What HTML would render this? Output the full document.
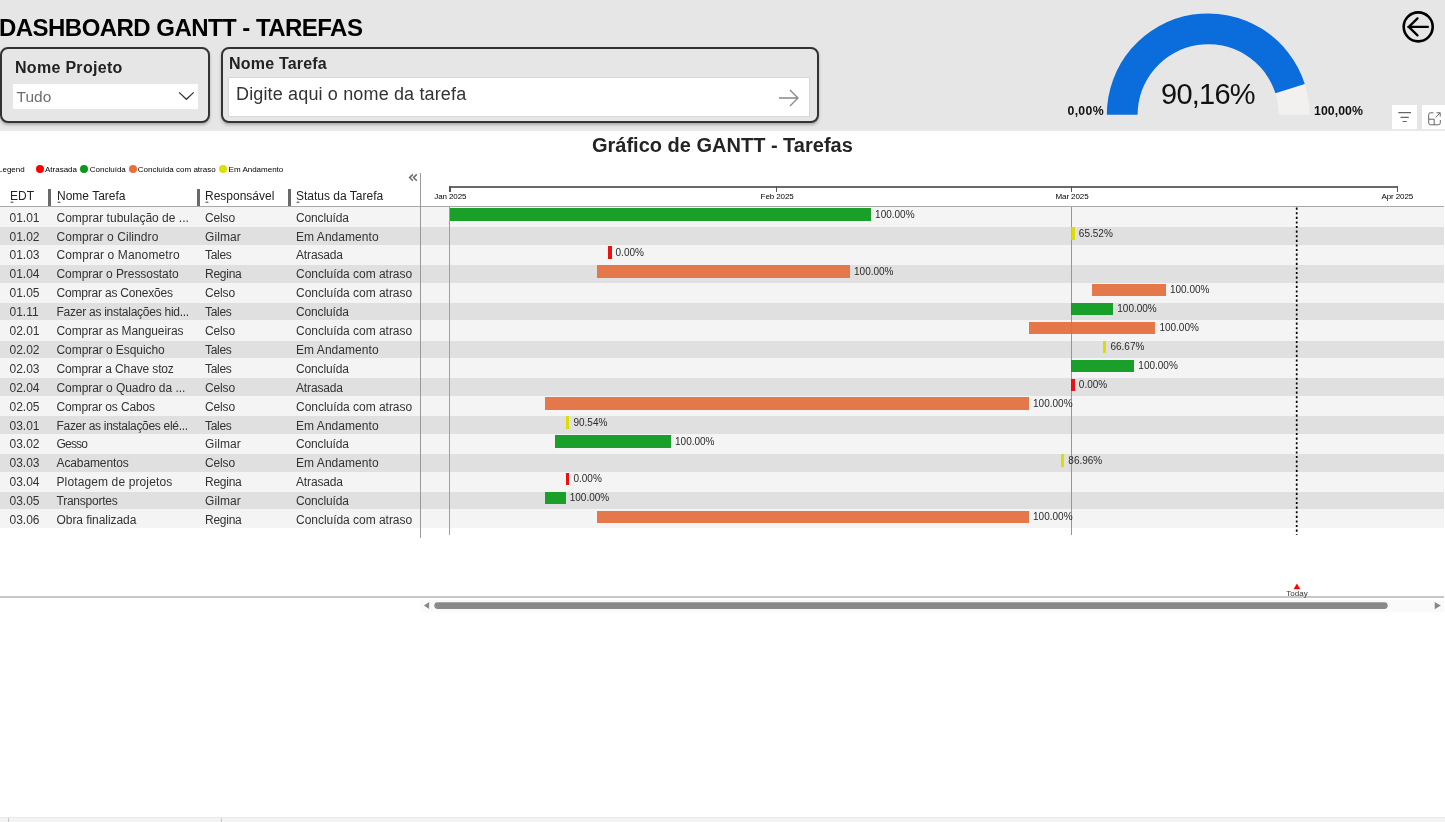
<!DOCTYPE html>
<html><head><meta charset="utf-8"><title>Dashboard Gantt - Tarefas</title>
<style>
*{margin:0;padding:0;box-sizing:border-box}
html,body{width:1445px;height:822px;overflow:hidden;background:#fff;-webkit-font-smoothing:antialiased;font-family:"Liberation Sans",Arial,sans-serif;color:#252423}
.a{position:absolute}
#top{left:0;top:0;width:1445px;height:131px;background:#e6e6e6;border-bottom:2px solid #e9e9e9}
#title{left:-1px;top:14px;font-size:24px;font-weight:bold;color:#000;white-space:nowrap;letter-spacing:-0.54px}
.box{border:2px solid #333;border-radius:8px;background:#e6e6e6;box-shadow:0 2px 3px rgba(0,0,0,.25)}
#b1{left:0;top:47px;width:210px;height:76px}
#b2{left:220.7px;top:47px;width:598.3px;height:76px}
.lbl{font-weight:bold;font-size:16px;color:#222;white-space:nowrap}
#dd{left:12.5px;top:83.5px;width:185px;height:25.3px;background:#fff}
#tudo{left:16.5px;top:87.5px;font-size:15.5px;color:#6e6e6e}
#inp{left:228px;top:77.3px;width:582px;height:40px;background:#fff;border:1px solid #d8d8d8}
#ph{left:236px;top:84px;font-size:18px;color:#333;white-space:nowrap;letter-spacing:0.15px}
#white{left:0;top:131px;width:1445px;height:691px;background:#fff;display:none}
#ctitle{left:592px;top:134px;font-size:20px;font-weight:bold;color:#252423;white-space:nowrap}
.lg{top:164.7px;font-size:8px;color:#000;white-space:nowrap}
.dot{width:8px;height:8px;border-radius:50%;top:164.8px!important}
.hd{top:189px;font-size:12px;color:#222;white-space:nowrap}
.sep{top:189px;width:3px;height:17px;background:#6a6a6a}
.tri{width:0;height:0;border-left:2.4px solid transparent;border-right:2.4px solid transparent;border-bottom:2.5px solid #777}
.row{left:0;width:421px;height:18.9px}
.rowc{left:421px;width:1024px;height:18.9px}
.c{font-size:12px;color:#333;white-space:nowrap;top:3px}
.ax{font-size:8px;color:#000;white-space:nowrap;top:191.6px;letter-spacing:-0.1px}
.bar{height:12px}
.pl{font-size:10px;color:#2a2a2a;white-space:nowrap}
</style></head><body><div id="wrap" style="position:absolute;left:0;top:0;width:1445px;height:822px;will-change:transform">
<div class="a" id="top"></div>
<div class="a" id="title">DASHBOARD GANTT - TAREFAS</div>
<div class="a box" id="b1"></div>
<div class="a lbl" style="left:15px;top:59px;letter-spacing:0.3px">Nome Projeto</div>
<div class="a" id="dd"></div>
<div class="a" id="tudo">Tudo</div>
<svg class="a" style="left:178px;top:90px" width="17" height="11"><path d="M1.1 2.4 L8.4 9.3 L15.7 2.4" fill="none" stroke="#333" stroke-width="1.25"/></svg>
<div class="a box" id="b2"></div>
<div class="a lbl" style="left:229px;top:55.4px;letter-spacing:0.2px">Nome Tarefa</div>
<div class="a" id="inp"></div>
<div class="a" id="ph">Digite aqui o nome da tarefa</div>
<svg class="a" style="left:777px;top:87px" width="24" height="22"><path d="M2 11 H21 M13 3 L21 11 L13 19" fill="none" stroke="#888" stroke-width="1.3"/></svg>

<!-- gauge -->
<svg class="a" style="left:1100px;top:5px" width="220" height="115">
  <path d="M6.80 109.80 A101.4 101.4 0 0 1 209.60 109.80 L178.80 109.80 A70.6 70.6 0 0 0 37.60 109.80 Z" fill="#f2f1f0"/>
  <path d="M6.80 109.80 A101.4 101.4 0 0 1 204.79 78.95 L175.45 88.32 A70.6 70.6 0 0 0 37.60 109.80 Z" fill="#0b6cdb"/>
</svg>
<div class="a" style="left:1161px;top:77.5px;font-size:29px;color:#111;white-space:nowrap;letter-spacing:-0.75px">90,16%</div>
<div class="a" style="left:1067.5px;top:103.6px;font-size:12.3px;font-weight:bold;color:#111;letter-spacing:0.3px">0,00%</div>
<div class="a" style="left:1314px;top:103.6px;font-size:12.3px;font-weight:bold;color:#111;letter-spacing:0.05px">100,00%</div>

<svg class="a" style="left:1400px;top:9px" width="36" height="36"><circle cx="18.2" cy="17.85" r="14.5" fill="none" stroke="#000" stroke-width="2.6"/><path d="M8.3 17.9 H27.9 M17.5 9.4 L8.8 17.9 L17.5 26.4" fill="none" stroke="#000" stroke-width="2.3" stroke-linecap="round" stroke-linejoin="round"/></svg>

<div class="a" id="white"></div>
<div class="a" style="left:1392px;top:105px;width:25px;height:24px;background:#fff"></div>
<div class="a" style="left:1422px;top:105px;width:23px;height:24px;background:#fff"></div>
<svg class="a" style="left:1392px;top:105px" width="53" height="24">
 <path d="M6.3 7.6 H19 M8.5 12.4 H16.8 M10.5 16.5 H14.8" stroke="#666" stroke-width="1.1" fill="none"/>
 <path d="M41.4 7.8 H38.2 Q36.7 7.8 36.7 9.8 V17.8 Q36.7 19.8 38.7 19.8 H46.3 Q48.3 19.8 48.3 17.8 V15" stroke="#666" stroke-width="1" fill="none"/>
 <path d="M43.6 12.4 L48.2 7.8 M44.5 7.8 H48.2 V11.6" stroke="#666" stroke-width="1" fill="none"/>
 <path d="M36.7 14.2 H42.2 V19.8" stroke="#666" stroke-width="1" fill="none"/>
</svg>

<div class="a" id="ctitle">Gráfico de GANTT - Tarefas</div>

<!-- legend -->
<div class="a lg" style="left:-2px">Legend</div>
<div class="a dot" style="left:35.6px;top:165px;background:#f00"></div>
<div class="a lg" style="left:45px">Atrasada</div>
<div class="a dot" style="left:80px;top:165px;background:#08981a"></div>
<div class="a lg" style="left:89.8px">Concluída</div>
<div class="a dot" style="left:128.6px;top:165px;background:#e8703a"></div>
<div class="a lg" style="left:137.8px">Concluída com atraso</div>
<div class="a dot" style="left:219px;top:165px;background:#dede00"></div>
<div class="a lg" style="left:228.6px">Em Andamento</div>

<svg class="a" style="left:405px;top:170px" width="15" height="14"><path d="M7.9 4.4 L4.6 7.6 L7.9 10.8 M11.8 4.4 L8.5 7.6 L11.8 10.8" fill="none" stroke="#6e6e6e" stroke-width="1.5"/></svg>

<!-- header -->
<div class="a hd" style="left:10px">EDT</div>
<div class="a sep" style="left:48px"></div>
<div class="a hd" style="left:57px">Nome Tarefa</div>
<div class="a sep" style="left:197px"></div>
<div class="a hd" style="left:205px">Responsável</div>
<div class="a sep" style="left:288px"></div>
<div class="a hd" style="left:296px">Status da Tarefa</div>
<div class="a tri" style="left:9.9px;top:201.3px"></div>
<div class="a tri" style="left:56.8px;top:201.3px"></div>
<div class="a tri" style="left:205.3px;top:201.3px"></div>
<div class="a tri" style="left:296.3px;top:201.3px"></div>
<div class="a" style="left:0;top:206px;width:1444px;height:1px;background:#a8a8a8"></div>

<div class="a" style="left:0;top:207.00px;width:1444px;height:321.30px;background:#f4f4f4"></div>
<div class="a" style="left:0;top:227.10px;width:1444px;height:17.70px;background:#e0e0e0"></div>
<div class="a" style="left:0;top:264.90px;width:1444px;height:17.70px;background:#e0e0e0"></div>
<div class="a" style="left:0;top:302.70px;width:1444px;height:17.70px;background:#e0e0e0"></div>
<div class="a" style="left:0;top:340.50px;width:1444px;height:17.70px;background:#e0e0e0"></div>
<div class="a" style="left:0;top:378.30px;width:1444px;height:17.70px;background:#e0e0e0"></div>
<div class="a" style="left:0;top:416.10px;width:1444px;height:17.70px;background:#e0e0e0"></div>
<div class="a" style="left:0;top:453.90px;width:1444px;height:17.70px;background:#e0e0e0"></div>
<div class="a" style="left:0;top:491.70px;width:1444px;height:17.70px;background:#e0e0e0"></div>
<div class="a c" style="left:9.5px;top:210.60px">01.01</div>
<div class="a c" style="left:56.5px;top:210.60px;letter-spacing:0.013px">Comprar tubulação de ...</div>
<div class="a c" style="left:205px;top:210.60px;letter-spacing:-0.15px">Celso</div>
<div class="a c" style="left:296px;top:210.60px;letter-spacing:-0.14px">Concluída</div>
<div class="a c" style="left:9.5px;top:229.50px">01.02</div>
<div class="a c" style="left:56.5px;top:229.50px;letter-spacing:0.065px">Comprar o Cilindro</div>
<div class="a c" style="left:205px;top:229.50px;letter-spacing:0.08px">Gilmar</div>
<div class="a c" style="left:296px;top:229.50px;letter-spacing:0.05px">Em Andamento</div>
<div class="a c" style="left:9.5px;top:248.40px">01.03</div>
<div class="a c" style="left:56.5px;top:248.40px;letter-spacing:0.133px">Comprar o Manometro</div>
<div class="a c" style="left:205px;top:248.40px;letter-spacing:-0.3px">Tales</div>
<div class="a c" style="left:296px;top:248.40px;letter-spacing:-0.15px">Atrasada</div>
<div class="a c" style="left:9.5px;top:267.30px">01.04</div>
<div class="a c" style="left:56.5px;top:267.30px;letter-spacing:-0.060px">Comprar o Pressostato</div>
<div class="a c" style="left:205px;top:267.30px;letter-spacing:-0.25px">Regina</div>
<div class="a c" style="left:296px;top:267.30px;letter-spacing:-0.03px">Concluída com atraso</div>
<div class="a c" style="left:9.5px;top:286.20px">01.05</div>
<div class="a c" style="left:56.5px;top:286.20px;letter-spacing:-0.200px">Comprar as Conexões</div>
<div class="a c" style="left:205px;top:286.20px;letter-spacing:-0.15px">Celso</div>
<div class="a c" style="left:296px;top:286.20px;letter-spacing:-0.03px">Concluída com atraso</div>
<div class="a c" style="left:9.5px;top:305.10px">01.11</div>
<div class="a c" style="left:56.5px;top:305.10px;letter-spacing:-0.258px">Fazer as instalações hid...</div>
<div class="a c" style="left:205px;top:305.10px;letter-spacing:-0.3px">Tales</div>
<div class="a c" style="left:296px;top:305.10px;letter-spacing:-0.14px">Concluída</div>
<div class="a c" style="left:9.5px;top:324.00px">02.01</div>
<div class="a c" style="left:56.5px;top:324.00px;letter-spacing:-0.085px">Comprar as Mangueiras</div>
<div class="a c" style="left:205px;top:324.00px;letter-spacing:-0.15px">Celso</div>
<div class="a c" style="left:296px;top:324.00px;letter-spacing:-0.03px">Concluída com atraso</div>
<div class="a c" style="left:9.5px;top:342.90px">02.02</div>
<div class="a c" style="left:56.5px;top:342.90px;letter-spacing:-0.065px">Comprar o Esquicho</div>
<div class="a c" style="left:205px;top:342.90px;letter-spacing:-0.3px">Tales</div>
<div class="a c" style="left:296px;top:342.90px;letter-spacing:0.05px">Em Andamento</div>
<div class="a c" style="left:9.5px;top:361.80px">02.03</div>
<div class="a c" style="left:56.5px;top:361.80px;letter-spacing:-0.142px">Comprar a Chave stoz</div>
<div class="a c" style="left:205px;top:361.80px;letter-spacing:-0.3px">Tales</div>
<div class="a c" style="left:296px;top:361.80px;letter-spacing:-0.14px">Concluída</div>
<div class="a c" style="left:9.5px;top:380.70px">02.04</div>
<div class="a c" style="left:56.5px;top:380.70px;letter-spacing:-0.059px">Comprar o Quadro da ...</div>
<div class="a c" style="left:205px;top:380.70px;letter-spacing:-0.15px">Celso</div>
<div class="a c" style="left:296px;top:380.70px;letter-spacing:-0.15px">Atrasada</div>
<div class="a c" style="left:9.5px;top:399.60px">02.05</div>
<div class="a c" style="left:56.5px;top:399.60px;letter-spacing:-0.147px">Comprar os Cabos</div>
<div class="a c" style="left:205px;top:399.60px;letter-spacing:-0.15px">Celso</div>
<div class="a c" style="left:296px;top:399.60px;letter-spacing:-0.03px">Concluída com atraso</div>
<div class="a c" style="left:9.5px;top:418.50px">03.01</div>
<div class="a c" style="left:56.5px;top:418.50px;letter-spacing:-0.300px">Fazer as instalações elé...</div>
<div class="a c" style="left:205px;top:418.50px;letter-spacing:-0.3px">Tales</div>
<div class="a c" style="left:296px;top:418.50px;letter-spacing:0.05px">Em Andamento</div>
<div class="a c" style="left:9.5px;top:437.40px">03.02</div>
<div class="a c" style="left:56.5px;top:437.40px;letter-spacing:-0.800px">Gesso</div>
<div class="a c" style="left:205px;top:437.40px;letter-spacing:0.08px">Gilmar</div>
<div class="a c" style="left:296px;top:437.40px;letter-spacing:-0.14px">Concluída</div>
<div class="a c" style="left:9.5px;top:456.30px">03.03</div>
<div class="a c" style="left:56.5px;top:456.30px;letter-spacing:-0.110px">Acabamentos</div>
<div class="a c" style="left:205px;top:456.30px;letter-spacing:-0.15px">Celso</div>
<div class="a c" style="left:296px;top:456.30px;letter-spacing:0.05px">Em Andamento</div>
<div class="a c" style="left:9.5px;top:475.20px">03.04</div>
<div class="a c" style="left:56.5px;top:475.20px;letter-spacing:0.121px">Plotagem de projetos</div>
<div class="a c" style="left:205px;top:475.20px;letter-spacing:-0.25px">Regina</div>
<div class="a c" style="left:296px;top:475.20px;letter-spacing:-0.15px">Atrasada</div>
<div class="a c" style="left:9.5px;top:494.10px">03.05</div>
<div class="a c" style="left:56.5px;top:494.10px;letter-spacing:-0.240px">Transportes</div>
<div class="a c" style="left:205px;top:494.10px;letter-spacing:0.08px">Gilmar</div>
<div class="a c" style="left:296px;top:494.10px;letter-spacing:-0.14px">Concluída</div>
<div class="a c" style="left:9.5px;top:513.00px">03.06</div>
<div class="a c" style="left:56.5px;top:513.00px;letter-spacing:-0.057px">Obra finalizada</div>
<div class="a c" style="left:205px;top:513.00px;letter-spacing:-0.25px">Regina</div>
<div class="a c" style="left:296px;top:513.00px;letter-spacing:-0.03px">Concluída com atraso</div>
<div class="a" style="left:449.40px;top:207px;width:1px;height:327.5px;background:#a0a0a0"></div>
<div class="a" style="left:1070.67px;top:207px;width:1px;height:327.5px;background:#a0a0a0"></div>
<div class="a" style="left:449.90px;top:208.40px;width:421.20px;height:12.45px;background:#1a9f2b"></div>
<div class="a pl" style="left:875.10px;top:208.80px">100.00%</div>
<div class="a" style="left:1071.17px;top:227.30px;width:3.70px;height:12.45px;background:#dddd00"></div>
<div class="a pl" style="left:1078.87px;top:227.70px">65.52%</div>
<div class="a" style="left:607.85px;top:246.20px;width:3.70px;height:12.45px;background:#ee1111"></div>
<div class="a pl" style="left:615.55px;top:246.60px">0.00%</div>
<div class="a" style="left:597.32px;top:265.10px;width:252.72px;height:12.45px;background:#e5784a"></div>
<div class="a pl" style="left:854.04px;top:265.50px">100.00%</div>
<div class="a" style="left:1092.23px;top:284.00px;width:73.71px;height:12.45px;background:#e5784a"></div>
<div class="a pl" style="left:1169.94px;top:284.40px">100.00%</div>
<div class="a" style="left:1071.17px;top:302.90px;width:42.12px;height:12.45px;background:#1a9f2b"></div>
<div class="a pl" style="left:1117.29px;top:303.30px">100.00%</div>
<div class="a" style="left:1029.05px;top:321.80px;width:126.36px;height:12.45px;background:#e5784a"></div>
<div class="a pl" style="left:1159.41px;top:322.20px">100.00%</div>
<div class="a" style="left:1102.76px;top:340.70px;width:3.70px;height:12.45px;background:#dddd00"></div>
<div class="a pl" style="left:1110.46px;top:341.10px">66.67%</div>
<div class="a" style="left:1071.17px;top:359.60px;width:63.18px;height:12.45px;background:#1a9f2b"></div>
<div class="a pl" style="left:1138.35px;top:360.00px">100.00%</div>
<div class="a" style="left:1071.17px;top:378.50px;width:3.70px;height:12.45px;background:#ee1111"></div>
<div class="a pl" style="left:1078.87px;top:378.90px">0.00%</div>
<div class="a" style="left:544.67px;top:397.40px;width:484.38px;height:12.45px;background:#e5784a"></div>
<div class="a pl" style="left:1033.05px;top:397.80px">100.00%</div>
<div class="a" style="left:565.73px;top:416.30px;width:3.70px;height:12.45px;background:#dddd00"></div>
<div class="a pl" style="left:573.43px;top:416.70px">90.54%</div>
<div class="a" style="left:555.20px;top:435.20px;width:115.83px;height:12.45px;background:#1a9f2b"></div>
<div class="a pl" style="left:675.03px;top:435.60px">100.00%</div>
<div class="a" style="left:1060.64px;top:454.10px;width:3.70px;height:12.45px;background:#dddd00"></div>
<div class="a pl" style="left:1068.34px;top:454.50px">86.96%</div>
<div class="a" style="left:565.73px;top:473.00px;width:3.70px;height:12.45px;background:#ee1111"></div>
<div class="a pl" style="left:573.43px;top:473.40px">0.00%</div>
<div class="a" style="left:544.67px;top:491.90px;width:21.06px;height:12.45px;background:#1a9f2b"></div>
<div class="a pl" style="left:569.73px;top:492.30px">100.00%</div>
<div class="a" style="left:597.32px;top:510.80px;width:431.73px;height:12.45px;background:#e5784a"></div>
<div class="a pl" style="left:1033.05px;top:511.20px">100.00%</div>
<div class="a" style="left:1070.67px;top:207px;width:1px;height:327.5px;background:rgba(0,0,0,0.06)"></div>
<svg class="a" style="left:1295.00px;top:207px" width="4" height="330"><line x1="1.7" y1="0.6" x2="1.7" y2="328" stroke="#000" stroke-width="1.7" stroke-dasharray="2.1 2.5"/></svg>

<div class="a" style="left:420.2px;top:173.3px;width:1.2px;height:364.5px;background:#999"></div>
<!-- timeline axis -->
<div class="a" style="left:449.4px;top:186.4px;width:948.8px;height:1.6px;background:#6a6a6a"></div>
<div class="a" style="left:449.4px;top:186.4px;width:1.3px;height:5.3px;background:#555"></div>
<div class="a" style="left:775.8px;top:186.4px;width:1.3px;height:5.3px;background:#555"></div>
<div class="a" style="left:1070.6px;top:186.4px;width:1.3px;height:5.3px;background:#555"></div>
<div class="a" style="left:1397px;top:186.4px;width:1.3px;height:5.3px;background:#555"></div>
<div class="a ax" style="left:434.3px">Jan 2025</div>
<div class="a ax" style="left:760.6px">Feb 2025</div>
<div class="a ax" style="left:1055.5px">Mar 2025</div>
<div class="a ax" style="left:1381.5px">Apr 2025</div>

<!-- bottom of chart -->
<div class="a" style="left:0;top:596.3px;width:1444px;height:1.5px;background:#c8c8c8"></div>
<div class="a" style="left:420px;top:600px;width:1024px;height:12px;background:#fafafa"></div>
<svg class="a" style="left:420px;top:600px" width="1025" height="12">
 <path d="M3.9 5.4 L9.1 1.9 V8.9 Z" fill="#888"/>
 <rect x="14.3" y="2.2" width="953.4" height="6.7" rx="3.35" fill="#8a8a8a"/>
 <path d="M1020.8 5.5 L1014.7 1.9 V9.2 Z" fill="#888"/>
</svg>
<svg class="a" style="left:1293px;top:583px" width="8" height="7"><path d="M3.9 0.5 L7.3 6.3 H0.6 Z" fill="#f00"/></svg>
<div class="a" style="left:1286.3px;top:589px;font-size:8px;color:#333">Today</div>
<div class="a" style="left:0;top:817px;width:1445px;height:5px;background:#f3f3f3;border-top:1px solid #ebebeb"></div>
<div class="a" style="left:8px;top:818px;width:1px;height:4px;background:#c8c8c8"></div>
<div class="a" style="left:221px;top:818px;width:1px;height:4px;background:#c8c8c8"></div>

</div></body></html>
